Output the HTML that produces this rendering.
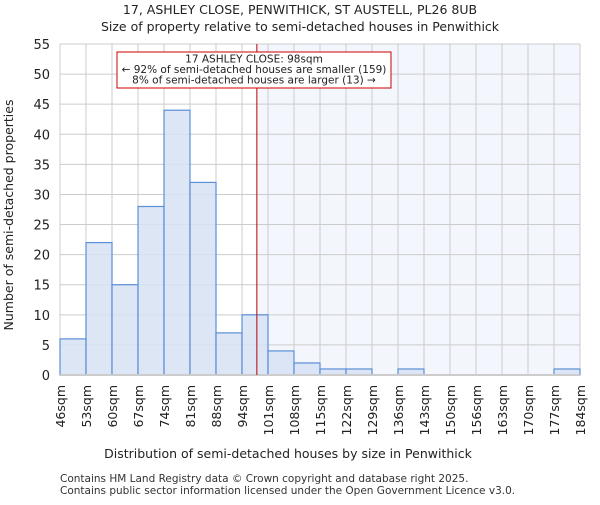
<!DOCTYPE html>
<html><head><meta charset="utf-8"><style>
body{margin:0;background:#fff}
svg{font-family:"DejaVu Sans","Liberation Sans",sans-serif}
</style></head><body>
<svg id="c" width="600" height="500" xmlns="http://www.w3.org/2000/svg">
<text x="300" y="14" font-size="12.5" text-anchor="middle" fill="#222">17, ASHLEY CLOSE, PENWITHICK, ST AUSTELL, PL26 8UB</text>
<text x="300" y="31" font-size="12.5" text-anchor="middle" fill="#222">Size of property relative to semi-detached houses in Penwithick</text>
<g id="plot"></g>
<text x="288" y="458" font-size="12.5" text-anchor="middle" fill="#222">Distribution of semi-detached houses by size in Penwithick</text>
<text transform="translate(13,215) rotate(-90)" font-size="12.5" text-anchor="middle" fill="#222">Number of semi-detached properties</text>
<text x="60" y="482" font-size="10.5" fill="#333">Contains HM Land Registry data © Crown copyright and database right 2025.</text>
<text x="60" y="494" font-size="10.5" fill="#333">Contains public sector information licensed under the Open Government Licence v3.0.</text>
</svg>
<script>
const binLabels=["46sqm","53sqm","60sqm","67sqm","74sqm","81sqm","88sqm","94sqm","101sqm","108sqm","115sqm","122sqm","129sqm","136sqm","143sqm","150sqm","156sqm","163sqm","170sqm","177sqm","184sqm"];
const counts=[6,22,15,28,44,32,7,10,4,2,1,1,0,1,0,0,0,0,0,1];
const yTicks=[0,5,10,15,20,25,30,35,40,45,50,55];
const propertyBinPos=7+4/7;
const annotation=["17 ASHLEY CLOSE: 98sqm","← 92% of semi-detached houses are smaller (159)","8% of semi-detached houses are larger (13) →"];
const NS="http://www.w3.org/2000/svg";
const L=60,R=580,T=44,B=375,yMax=55;
const n=counts.length;
const x=i=>L+(R-L)*i/n;
const y=v=>B-(B-T)*v/yMax;
const g=document.getElementById('plot');
function mk(t,a){const e=document.createElementNS(NS,t);for(const k in a)e.setAttribute(k,a[k]);g.appendChild(e);return e;}
let e;
const px=x(propertyBinPos);
e=mk('rect',{x:px,y:T,width:R-px,height:B-T,fill:'#f3f6fd'});


yTicks.forEach(v=>{
 e=mk('line',{x1:L,x2:R,y1:y(v),y2:y(v),stroke:'#ccc','stroke-width':1});
 
 
 e=mk('text',{x:L-10,y:y(v)+5,'font-size':13,'text-anchor':'end',fill:'#222'});
 e.textContent=v;
 
 
});
binLabels.forEach((s,i)=>{
 e=mk('line',{x1:x(i),x2:x(i),y1:T,y2:B,stroke:'#ccc','stroke-width':1});
 
 
 e=mk('text',{transform:`translate(${x(i)+5},${B+10}) rotate(-90)`,'font-size':12.5,'text-anchor':'end',fill:'#222'});
 e.textContent=s;
 
 
});
counts.forEach((c,i)=>{
 if(c<=0)return;
 e=mk('rect',{x:x(i),y:y(c),width:x(i+1)-x(i),height:B-y(c),fill:'#d6e2f3','fill-opacity':0.85,stroke:'#5b8fd6','stroke-width':1.2});
 
 
});
e=mk('line',{x1:L,x2:R,y1:B,y2:B,stroke:'#ccc','stroke-width':2});


e=mk('line',{x1:px,x2:px,y1:T,y2:B,stroke:'#b00','stroke-width':1});


e=mk('rect',{x:117,y:52,width:274,height:36,fill:'#fff',stroke:'#c00','stroke-width':1});


annotation.forEach((s,i)=>{
 e=mk('text',{x:254,y:62.5+i*10.5,'font-size':10.5,'text-anchor':'middle',fill:'#222'});
 e.textContent=s;
 
 
});
</script>
</body></html>
